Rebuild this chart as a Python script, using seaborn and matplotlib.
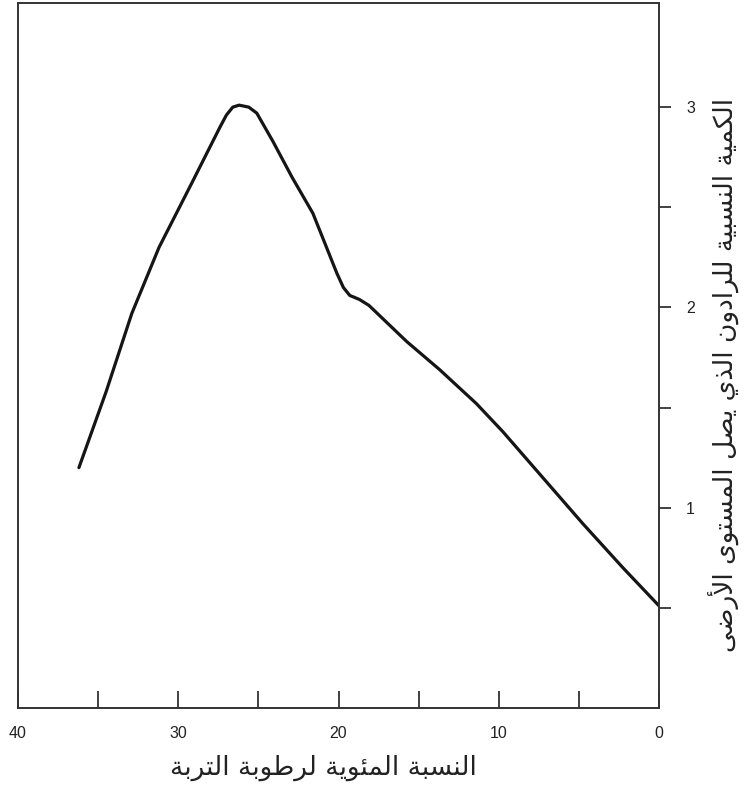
import numpy as np
import pandas as pd
import matplotlib
matplotlib.use("Agg")
import matplotlib.pyplot as plt
import seaborn as sns

# soil moisture (%) and relative radon reaching ground level
moisture = [36.2, 34.5, 32.9, 31.2, 29.1, 27.4, 27.0, 26.6, 26.2, 25.6, 25.1, 24.1, 22.9,
            21.6, 20.1, 19.7, 19.3, 18.7, 18.1, 15.75, 13.7, 11.4, 9.75, 7.25, 4.75, 2.25, 0.0]
radon = [1.20, 1.58, 1.97, 2.30, 2.63, 2.90, 2.96, 3.00, 3.01, 3.00, 2.97, 2.83, 2.65,
         2.47, 2.17, 2.10, 2.06, 2.04, 2.01, 1.83, 1.69, 1.52, 1.38, 1.15, 0.92, 0.70, 0.51]

x_major = [0, 10, 20, 30, 40]
x_minor = [5, 15, 25, 35]
y_major = [1, 2, 3]
y_minor = [0.5, 1.5, 2.5]

xlabel = "النسبة المئوية لرطوبة التربة"
ylabel = "الكمية النسبية للرادون الذي يصل المستوى الأرضى"


# ---------------------------------------------------------------------------
# matplotlib has no Arabic shaping: map letters to presentation forms by hand
# (start code point, number of forms) -> 4 = dual joining, 2 = right joining
# ---------------------------------------------------------------------------
FORMS = {
    "ء": (0xFE80, 1), "آ": (0xFE81, 2), "أ": (0xFE83, 2), "ؤ": (0xFE85, 2),
    "إ": (0xFE87, 2), "ئ": (0xFE89, 4), "ا": (0xFE8D, 2), "ب": (0xFE8F, 4),
    "ة": (0xFE93, 2), "ت": (0xFE95, 4), "ث": (0xFE99, 4), "ج": (0xFE9D, 4),
    "ح": (0xFEA1, 4), "خ": (0xFEA5, 4), "د": (0xFEA9, 2), "ذ": (0xFEAB, 2),
    "ر": (0xFEAD, 2), "ز": (0xFEAF, 2), "س": (0xFEB1, 4), "ش": (0xFEB5, 4),
    "ص": (0xFEB9, 4), "ض": (0xFEBD, 4), "ط": (0xFEC1, 4), "ظ": (0xFEC5, 4),
    "ع": (0xFEC9, 4), "غ": (0xFECD, 4), "ف": (0xFED1, 4), "ق": (0xFED5, 4),
    "ك": (0xFED9, 4), "ل": (0xFEDD, 4), "م": (0xFEE1, 4), "ن": (0xFEE5, 4),
    "ه": (0xFEE9, 4), "و": (0xFEED, 2), "ى": (0xFEEF, 2), "ي": (0xFEF1, 4),
}
LAM_ALEF = {"آ": 0xFEF5, "أ": 0xFEF7, "إ": 0xFEF9, "ا": 0xFEFB}


def shape_arabic(text):
    units = []
    i = 0
    while i < len(text):
        ch = text[i]
        if ch == "ل" and i + 1 < len(text) and text[i + 1] in LAM_ALEF:
            units.append((LAM_ALEF[text[i + 1]], 2))
            i += 2
            continue
        units.append(FORMS.get(ch, ch))
        i += 1

    out = []
    for k, u in enumerate(units):
        if isinstance(u, str):
            out.append(u)
            continue
        start, n = u
        prev = units[k - 1] if k > 0 else None
        nxt = units[k + 1] if k + 1 < len(units) else None
        join_prev = n >= 2 and isinstance(prev, tuple) and prev[1] == 4
        join_next = n == 4 and isinstance(nxt, tuple) and nxt[1] >= 2
        if join_prev and join_next:
            off = 3
        elif join_prev:
            off = 1
        elif join_next:
            off = 2
        else:
            off = 0
        out.append(chr(start + off))
    return "".join(out)[::-1]


df = pd.DataFrame({"moisture": moisture, "radon": radon})

sns.set_style("white")
plt.rcParams["font.family"] = ["Liberation Sans", "DejaVu Sans"]

fig = plt.figure(figsize=(7.45, 7.9), dpi=100)
ax = fig.add_axes([0.0242, 0.1038, 0.8604, 0.8924])

sns.lineplot(data=df, x="moisture", y="radon", ax=ax, color="#151515",
             linewidth=2.3, estimator=None)

ax.set_xlim(40, 0)
ax.set_ylim(0, 3.52)

ax.set_xticks(x_major)
ax.set_xticks(x_minor, minor=True)
ax.set_xticklabels([str(v) for v in x_major], fontsize=11.5, color="#222222")
ax.tick_params(axis="x", which="both", bottom=True, top=False, direction="in",
               length=12, width=1.3, color="#333333", pad=13)

ax.yaxis.tick_right()
ax.set_yticks(y_major)
ax.set_yticks(y_minor, minor=True)
ax.set_yticklabels([str(v) for v in y_major], fontsize=11.5, color="#222222")
ax.tick_params(axis="y", which="both", right=True, left=False, direction="out",
               length=8.5, width=1.3, color="#333333", pad=11)

for s in ax.spines.values():
    s.set_visible(True)
    s.set_color("#333333")
    s.set_linewidth(1.4)

ax.set_xlabel(shape_arabic(xlabel), fontsize=19, family="DejaVu Sans", color="#222222")
ax.xaxis.set_label_coords(0.477, -0.066)
ax.yaxis.set_label_position("right")
ax.set_ylabel(shape_arabic(ylabel), fontsize=19, family="DejaVu Sans", color="#222222",
              rotation=90)
ax.yaxis.set_label_coords(1.077, 0.472)

fig.savefig("out.png", dpi=100)
